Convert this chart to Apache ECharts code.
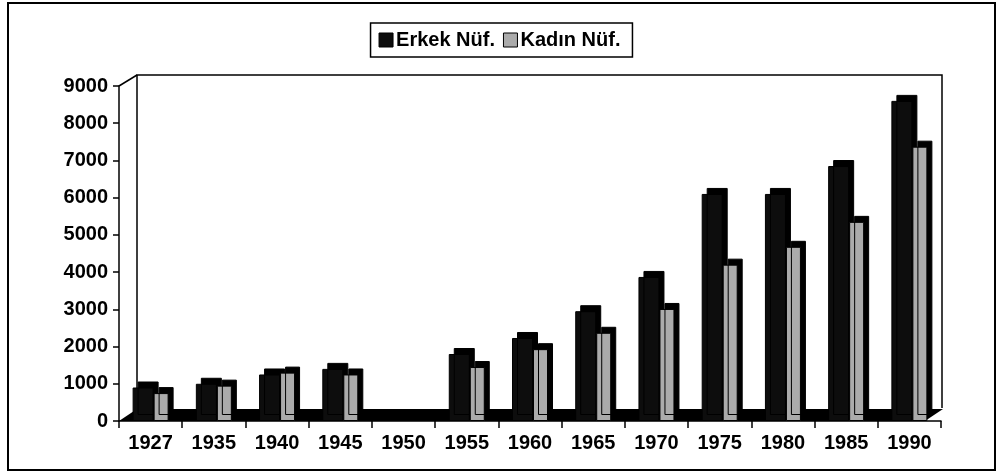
<!DOCTYPE html>
<html>
<head>
<meta charset="utf-8">
<script src="https://cdn.jsdelivr.net/npm/echarts@6/dist/echarts.min.js"></script>
<style>
  html, body { margin: 0; padding: 0; background: #fff; }
  #chart { width: 999px; height: 475px; }
</style>
</head>
<body>
<div id="chart"></div>
<script>
// population by census year (1950 has no data)
const years = ['1927', '1935', '1940', '1945', '1950', '1955', '1960', '1965', '1970', '1975', '1980', '1985', '1990']
const erkek = [900, 1000, 1250, 1400, '-', 1800, 2230, 2950, 3870, 6100, 6100, 6850, 8600]
const kadin = [750, 950, 1300, 1250, '-', 1450, 1930, 2370, 3010, 4200, 4680, 5350, 7370]
const seriesNames = ['Erkek Nüf.', 'Kadın Nüf.']

const font = '"Liberation Sans", Arial, sans-serif'

const chart = echarts.init(document.getElementById('chart'))

// fake 3D side/top of each bar
const depth = { shadowColor: '#000', shadowOffsetX: 5, shadowOffsetY: -6, shadowBlur: 0 }

chart.setOption({
  backgroundColor: '#fff',
  animation: false,
  textStyle: { fontFamily: font },
  legend: {
    top: 23,
    left: 'center',
    icon: 'rect',
    itemWidth: 14,
    itemHeight: 14,
    itemGap: 8,
    borderColor: '#000',
    borderWidth: 1.5,
    borderRadius: 0,
    padding: [7, 12, 7, 8],
    textStyle: { fontSize: 20, fontWeight: 'bold', color: '#000', padding: [0, 0, 0, -2] },
    itemStyle: { borderColor: '#000', borderWidth: 1 },
    data: seriesNames,
  },
  grid: { left: 119, right: 58, top: 86, bottom: 54 },
  xAxis: {
    type: 'category',
    data: years,
    axisLine: { lineStyle: { color: '#000', width: 1.5 } },
    axisTick: { show: true, length: 7, lineStyle: { color: '#000', width: 1.5 } },
    axisLabel: { color: '#000', fontSize: 20, fontWeight: 'bold', margin: 12 },
  },
  yAxis: {
    type: 'value',
    min: 0,
    max: 9000,
    interval: 1000,
    axisLine: { show: true, lineStyle: { color: '#000', width: 1.5 } },
    axisTick: { show: true, length: 6, lineStyle: { color: '#000', width: 1.5 } },
    axisLabel: { color: '#000', fontSize: 20, fontWeight: 'bold', margin: 11, formatter: v => String(v) },
    splitLine: { show: false },
  },
  series: [
    {
      name: seriesNames[0],
      type: 'bar',
      data: erkek,
      barWidth: 21,
      barGap: '0%',
      z: 3,
      itemStyle: Object.assign({ color: '#0d0d0d', borderColor: '#000', borderWidth: 1 }, depth),
    },
    {
      name: seriesNames[1],
      type: 'bar',
      data: kadin,
      barWidth: 15,
      z: 3,
      itemStyle: Object.assign({ color: '#ababab', borderColor: '#000', borderWidth: 1 }, depth),
    },
  ],
  graphic: [
    // outer frame
    {
      type: 'rect',
      z: -10,
      shape: { x: 8, y: 3, width: 987, height: 467 },
      style: { fill: 'none', stroke: '#000', lineWidth: 2 },
      silent: true,
    },
    // back wall
    {
      type: 'polyline',
      z: -10,
      shape: { points: [[137, 410], [137, 75], [942, 75], [942, 408]] },
      style: { fill: 'none', stroke: '#000', lineWidth: 1.5 },
      silent: true,
    },
    {
      type: 'line',
      z: -10,
      shape: { x1: 119, y1: 86, x2: 137, y2: 75 },
      style: { stroke: '#000', lineWidth: 1.5 },
      silent: true,
    },
    // floor slab
    {
      type: 'polygon',
      z: -10,
      shape: { points: [[119, 421], [925, 421], [943, 409], [137, 409]] },
      style: { fill: '#000' },
      silent: true,
    },
  ],
})
</script>
</body>
</html>
